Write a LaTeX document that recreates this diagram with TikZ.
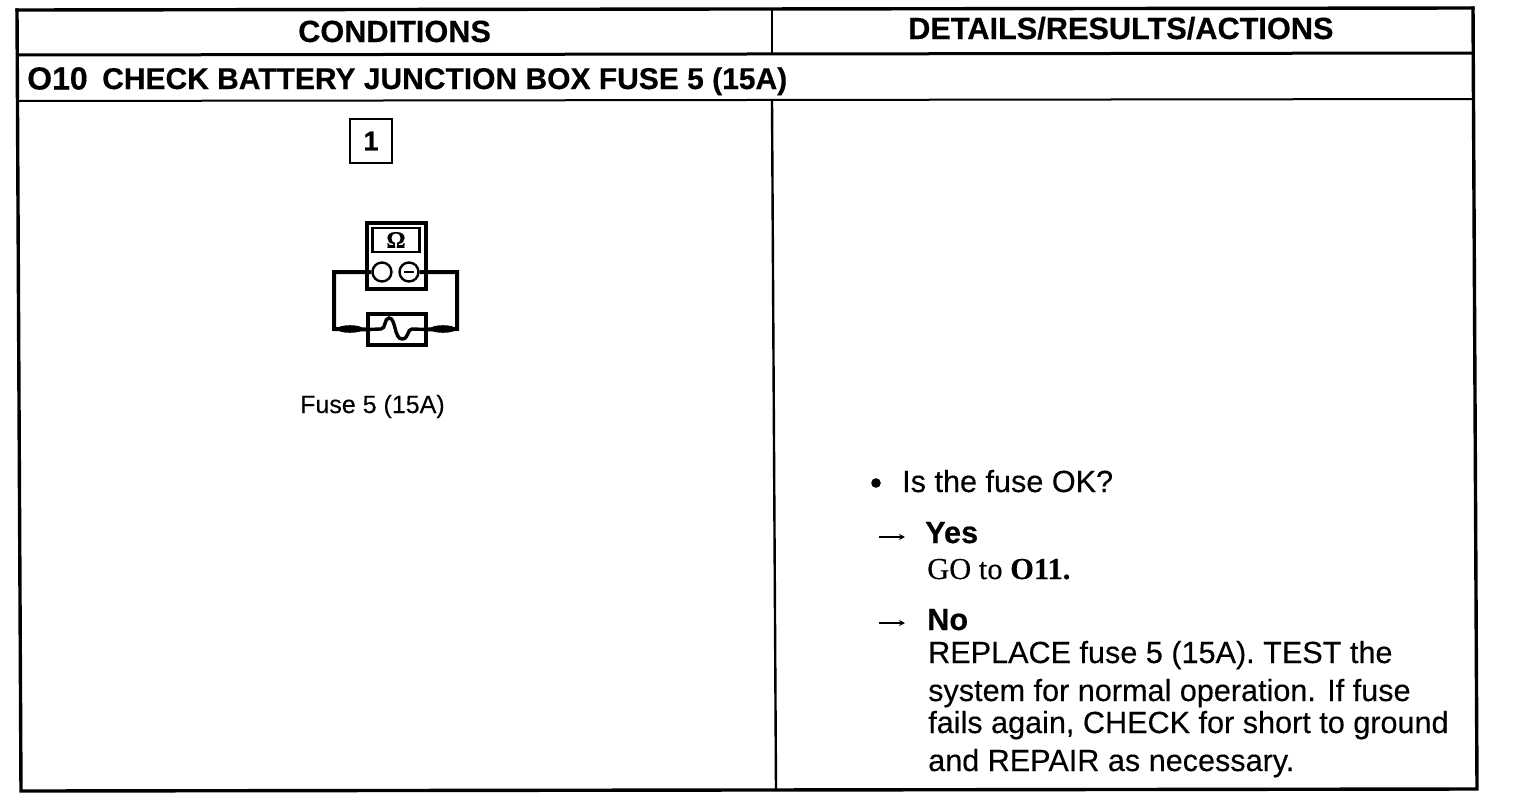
\documentclass[tikz,border=0pt]{standalone}
\usepackage{fontspec}
\setmainfont{Liberation Sans}
\newfontfamily\bodyf[FakeBold=0.25]{Liberation Sans}
\newfontfamily\headf[FakeBold=0.4]{Liberation Sans Bold}
\newfontfamily\serifx[FakeBold=0.25]{Liberation Serif}
\newfontfamily\serifb[FakeBold=0.3]{Liberation Serif Bold}
\usetikzlibrary{arrows.meta}
\tikzset{
 x=1pt,y=-1pt,
 rule/.style={line width=#1,line cap=rect},
 hd/.style={anchor=base west,inner sep=0pt,font=\headf\fontsize{30.7}{30.7}\selectfont},
 bd/.style={anchor=base west,inner sep=0pt,font=\bodyf\fontsize{30.6}{30.6}\selectfont},
 sm/.style={anchor=base west,inner sep=0pt,font=\bodyf\fontsize{25}{25}\selectfont},
 wire/.style={line width=4pt,line join=miter},
 dial/.style={circle,draw,line width=2.4pt,minimum size=19pt,inner sep=0pt},
 probe/.style={fill},
 pointer/.style={line width=1.4pt,-{Stealth[length=6pt,width=6pt]}},
}
\begin{document}
\begin{tikzpicture}
\useasboundingbox (0,0) rectangle (1520,798);
\fill[white] (0,0) rectangle (1520,798);
% table
\draw[rule=3.4pt] (17,10) -- (1473,8);
\draw[rule=3.4pt] (17,10) -- (21,791) -- (1477,789) -- (1473,8);
\draw[rule=3pt] (18,55) -- (1473,53);
\draw[rule=2pt] (18,101) -- (1473,99);
\draw[rule=2.4pt] (772,10) -- (772,54);
\draw[rule=2.4pt] (772,101) -- (776,790);
% header
\node[hd] (h1) at (298,42) {CONDITIONS};
\node[hd] (h2) at (908,39) {DETAILS/RESULTS/ACTIONS};
\node[hd,font=\headf\fontsize{32}{32}\selectfont] (t) at (27,89.5) {O10};
\node[hd,font=\headf\fontsize{30}{30}\selectfont] (t2) at (102,89) {CHECK BATTERY JUNCTION BOX FUSE 5 (15A)};
% step box
\node[draw,line width=2pt,minimum width=42pt,minimum height=44pt,inner sep=0pt,font=\headf\fontsize{27}{27}\selectfont] (one) at (371,141) {1};
% meter
\draw[line width=4pt] (366.5,222.5) rectangle (425.5,288.5);
\node[draw,line width=2.2pt,minimum width=47pt,minimum height=24pt,inner sep=0pt,font=\serifb\fontsize{24}{24}\selectfont] (disp) at (396,240) {Ω};
\node[dial] (pl) at (382,272) {};
\node[dial] (mi) at (409,272) {};
\draw[line width=2.6pt] (404,272) -- (414,272);
% fuse box
\node[draw,line width=3.6pt,minimum width=58pt,minimum height=31pt,inner sep=0pt] (fuse) at (397,329.5) {};
\draw[wire] (pl.west) -- (334,272) -- (334,329) -- (fuse.west);
\draw[wire] (mi.east) -- (457,272) -- (457,329) -- (fuse.east);
\draw[line width=3.4pt] (fuse.west) -- (381,329) .. controls (386,329) and (384,318) .. (389,318) .. controls (396,318) and (394,339) .. (402,339) .. controls (409,339) and (407,329) .. (412,329) -- (fuse.east);
\fill[probe] (350,329) ellipse (13 and 3.8);
\fill[probe] (443,329) ellipse (13 and 3.8);
\node[sm] (fl) at (300,413) {Fuse 5 (15A)};
% right
\fill (876,483) circle (4.8);
\node[bd] (q) at (902,492) {Is the fuse OK?};
\coordinate (a1s) at (879,537);\coordinate (a1e) at (905,537);
\draw[pointer] (a1s) -- (a1e);
\node[hd] (y) at (925,543) {Yes};
\node[anchor=base west,inner sep=0pt] (go) at (927,579) {\serifx\fontsize{30.5}{30.5}\selectfont GO to \serifb O11.};
\coordinate (a2s) at (879,623);\coordinate (a2e) at (905,623);
\draw[pointer] (a2s) -- (a2e);
\node[hd] (n) at (927,630) {No};
\node[bd] (l1) at (928,663) {REPLACE fuse 5 (15A). TEST the};
\node[bd] (l2) at (928,701) {system for normal operation. If fuse};
\node[bd] (l3) at (928,733) {fails again, CHECK for short to ground};
\node[bd] (l4) at (928,771) {and REPAIR as necessary.};
\end{tikzpicture}
\end{document}
